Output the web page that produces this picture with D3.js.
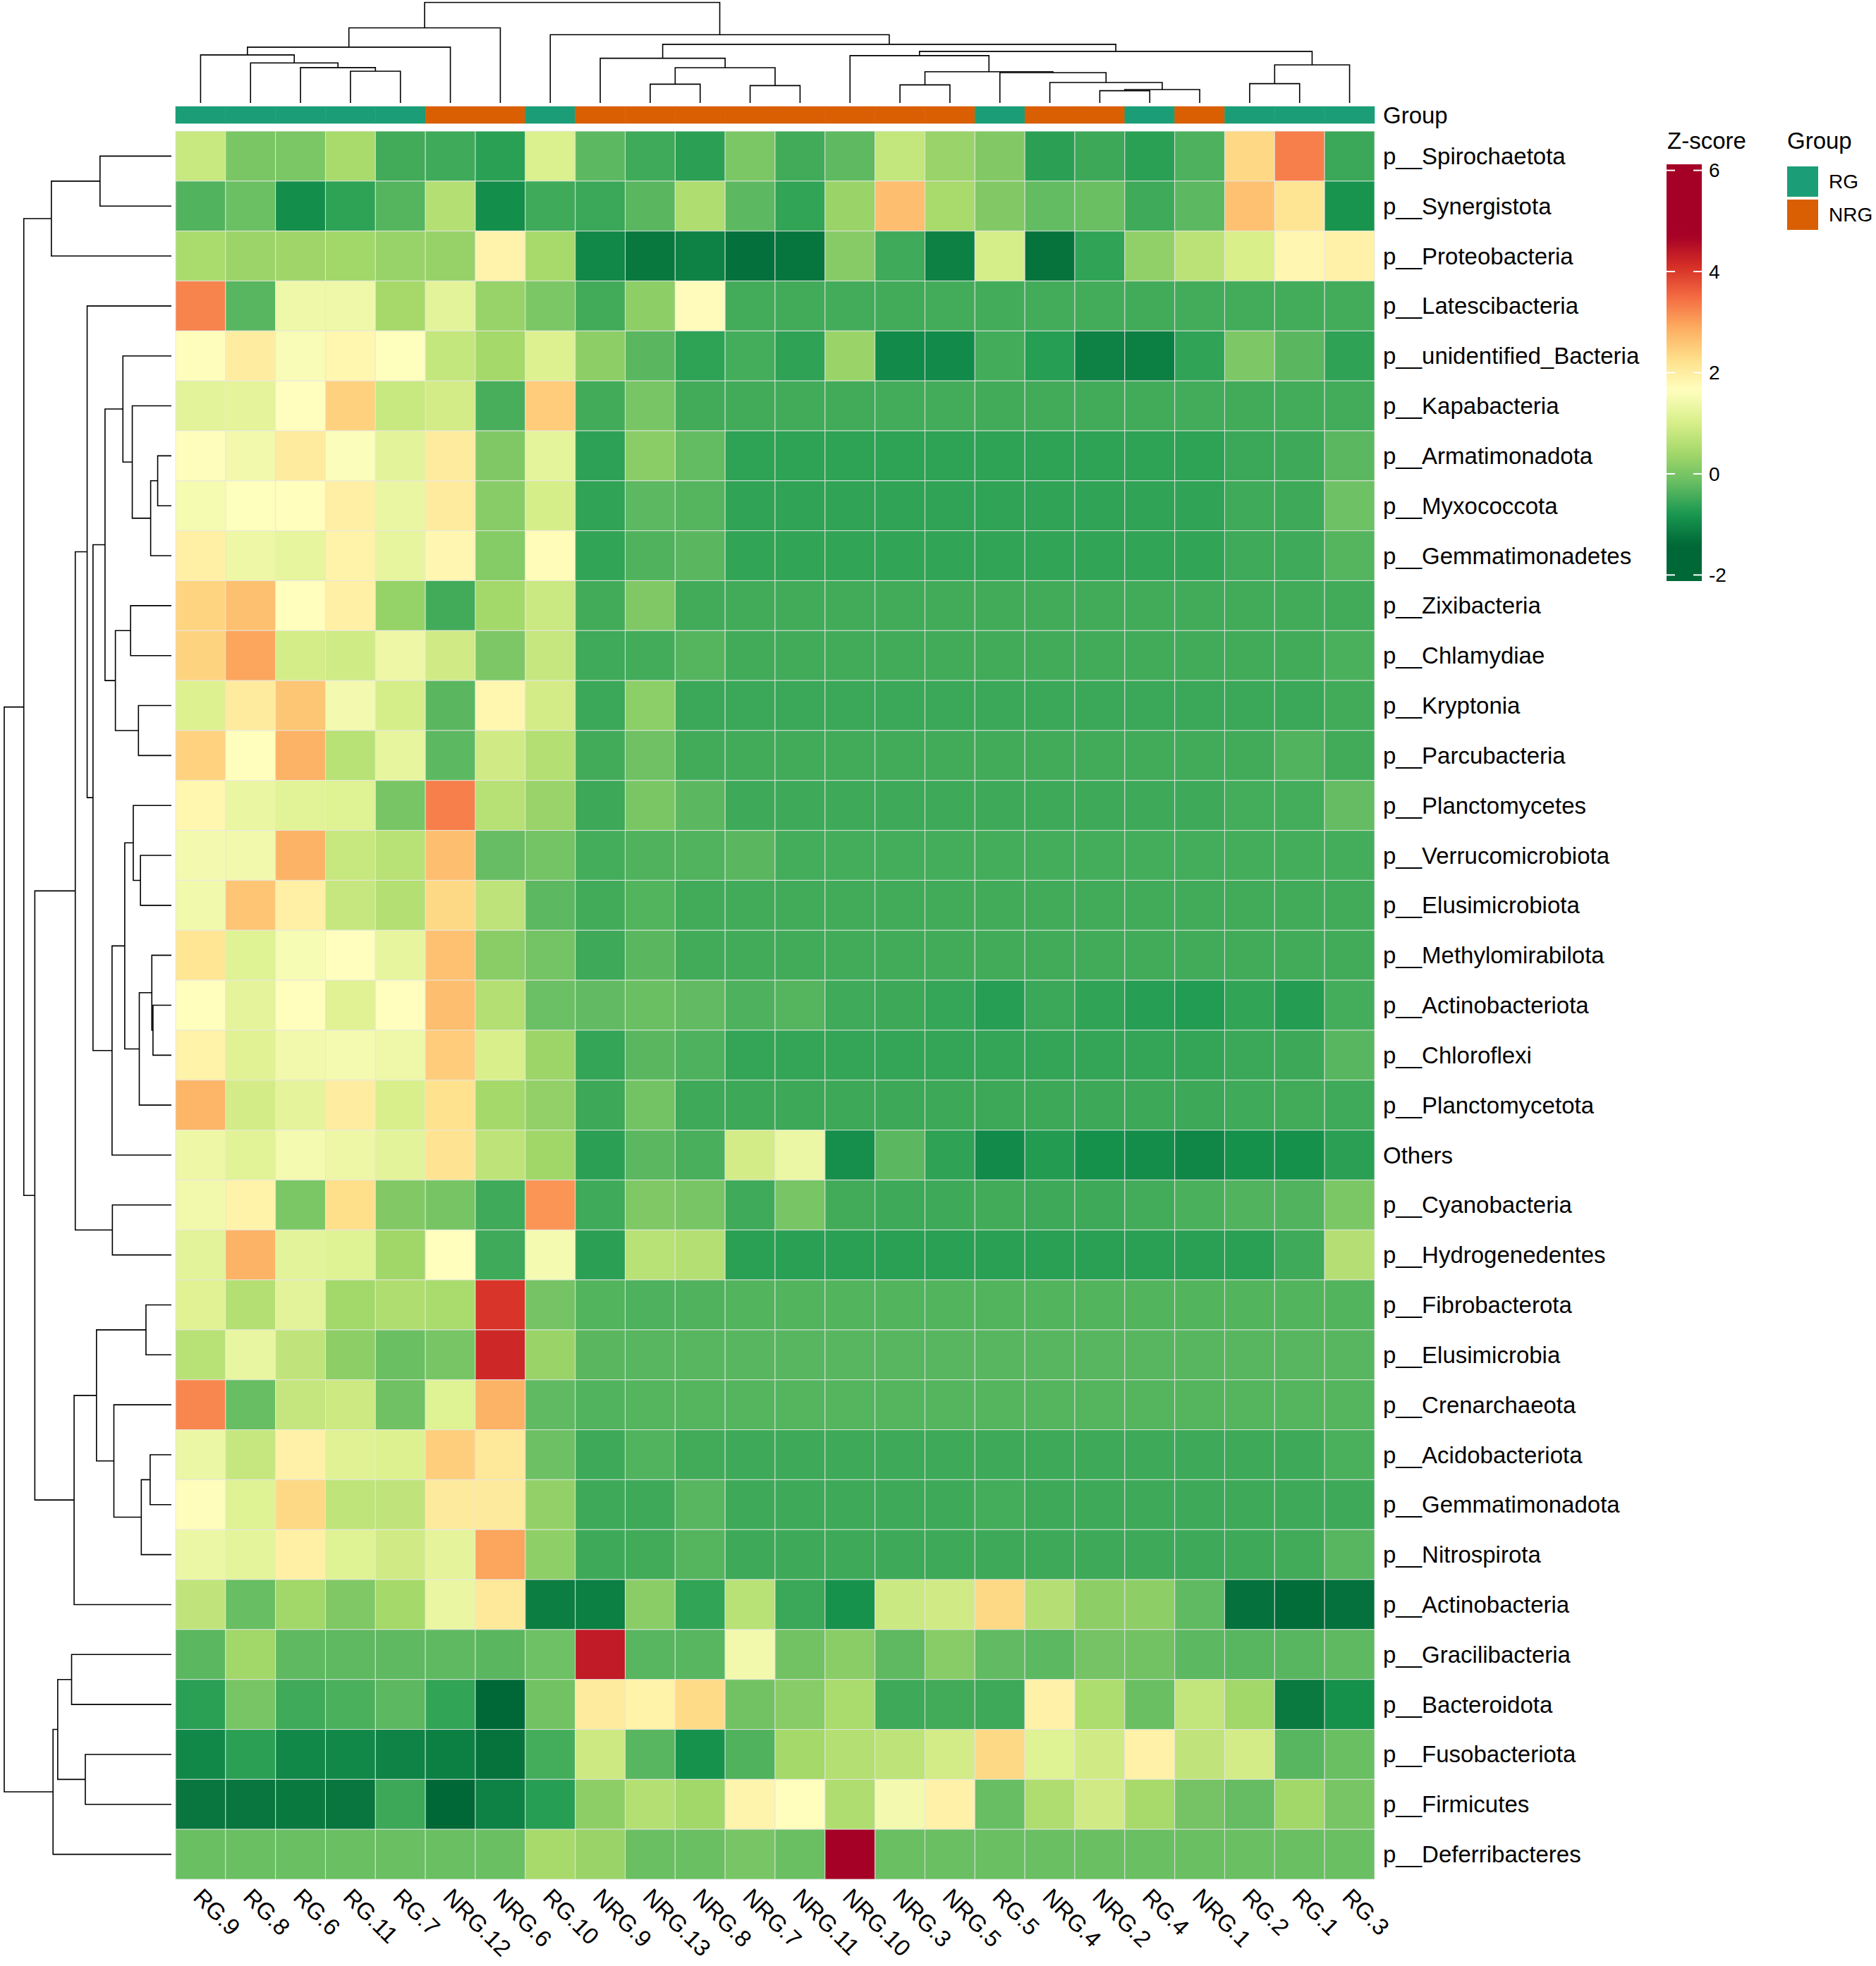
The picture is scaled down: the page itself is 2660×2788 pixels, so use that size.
<!DOCTYPE html>
<html lang="en">
<head>
<meta charset="utf-8">
<title>Phylum Z-score heatmap</title>
<script src="https://d3js.org/d3.v7.min.js"></script>
<style>
  body { margin: 0; background: #fff; }
  text { font-family: "Liberation Sans", Arial, sans-serif; fill: #000; }
</style>
</head>
<body>
<script>
// ---- data ----
var rows = ["p__Spirochaetota", "p__Synergistota", "p__Proteobacteria", "p__Latescibacteria",
  "p__unidentified_Bacteria", "p__Kapabacteria", "p__Armatimonadota", "p__Myxococcota",
  "p__Gemmatimonadetes", "p__Zixibacteria", "p__Chlamydiae", "p__Kryptonia", "p__Parcubacteria",
  "p__Planctomycetes", "p__Verrucomicrobiota", "p__Elusimicrobiota", "p__Methylomirabilota",
  "p__Actinobacteriota", "p__Chloroflexi", "p__Planctomycetota", "Others", "p__Cyanobacteria",
  "p__Hydrogenedentes", "p__Fibrobacterota", "p__Elusimicrobia", "p__Crenarchaeota",
  "p__Acidobacteriota", "p__Gemmatimonadota", "p__Nitrospirota", "p__Actinobacteria",
  "p__Gracilibacteria", "p__Bacteroidota", "p__Fusobacteriota", "p__Firmicutes", "p__Deferribacteres"];

var cols = ["RG.9", "RG.8", "RG.6", "RG.11", "RG.7", "NRG.12", "NRG.6", "RG.10", "NRG.9", "NRG.13",
  "NRG.8", "NRG.7", "NRG.11", "NRG.10", "NRG.3", "NRG.5", "RG.5", "NRG.4", "NRG.2", "RG.4",
  "NRG.1", "RG.2", "RG.1", "RG.3"];

var groups = ["RG", "RG", "RG", "RG", "RG", "NRG", "NRG", "RG", "NRG", "NRG", "NRG", "NRG", "NRG",
  "NRG", "NRG", "NRG", "RG", "NRG", "NRG", "RG", "NRG", "RG", "RG", "RG"];

var groupLevels = ["RG", "NRG"];
var groupColors = ["#1B9E77", "#D95F02"];

var zScores = [
  [0.84, 0.01, 0.02, 0.47, -0.47, -0.49, -0.66, 1.07, -0.25, -0.49, -0.65, 0.03, -0.47, -0.24, 0.78, 0.31, 0.09, -0.65, -0.52, -0.66, -0.38, 2.36, 3.31, -0.53],
  [-0.35, -0.12, -0.92, -0.63, -0.32, 0.60, -0.92, -0.49, -0.53, -0.28, 0.55, -0.25, -0.60, 0.32, 2.67, 0.47, 0.09, -0.20, -0.14, -0.49, -0.26, 2.64, 2.16, -0.84],
  [0.48, 0.33, 0.37, 0.39, 0.30, 0.28, 1.89, 0.44, -0.99, -1.20, -1.07, -1.30, -1.23, 0.13, -0.49, -1.10, 1.00, -1.27, -0.61, 0.23, 0.67, 1.03, 1.81, 1.93],
  [3.27, -0.29, 1.39, 1.38, 0.43, 1.20, 0.30, 0.03, -0.47, 0.19, 1.70, -0.46, -0.47, -0.46, -0.47, -0.46, -0.46, -0.46, -0.46, -0.47, -0.46, -0.46, -0.46, -0.46],
  [1.68, 2.00, 1.54, 1.83, 1.63, 0.78, 0.42, 1.10, 0.19, -0.28, -0.63, -0.45, -0.62, 0.32, -0.97, -0.97, -0.46, -0.69, -1.08, -1.11, -0.61, 0.04, -0.28, -0.62],
  [1.20, 1.23, 1.66, 2.44, 0.84, 0.97, -0.42, 2.50, -0.47, -0.01, -0.47, -0.47, -0.47, -0.47, -0.46, -0.46, -0.47, -0.47, -0.47, -0.47, -0.46, -0.47, -0.46, -0.46],
  [1.68, 1.44, 2.04, 1.59, 1.20, 2.04, 0.07, 1.22, -0.64, 0.16, -0.20, -0.63, -0.63, -0.63, -0.63, -0.63, -0.63, -0.63, -0.63, -0.63, -0.63, -0.53, -0.50, -0.27],
  [1.49, 1.63, 1.67, 1.96, 1.31, 2.04, 0.14, 1.00, -0.61, -0.26, -0.32, -0.61, -0.61, -0.61, -0.61, -0.61, -0.61, -0.61, -0.61, -0.61, -0.61, -0.49, -0.50, -0.10],
  [1.95, 1.36, 1.26, 1.91, 1.28, 1.81, 0.12, 1.73, -0.60, -0.36, -0.28, -0.60, -0.60, -0.60, -0.60, -0.60, -0.60, -0.60, -0.60, -0.60, -0.60, -0.49, -0.49, -0.32],
  [2.41, 2.65, 1.67, 1.95, 0.27, -0.47, 0.40, 0.87, -0.47, 0.07, -0.47, -0.47, -0.47, -0.47, -0.47, -0.47, -0.47, -0.47, -0.47, -0.47, -0.47, -0.47, -0.47, -0.47],
  [2.42, 2.95, 0.99, 0.92, 1.36, 0.93, 0.04, 0.81, -0.49, -0.46, -0.32, -0.47, -0.47, -0.47, -0.47, -0.47, -0.47, -0.47, -0.47, -0.47, -0.47, -0.47, -0.47, -0.40],
  [1.10, 2.04, 2.58, 1.46, 1.01, -0.28, 1.83, 0.97, -0.53, 0.18, -0.53, -0.53, -0.53, -0.53, -0.53, -0.53, -0.53, -0.53, -0.53, -0.53, -0.53, -0.53, -0.53, -0.47],
  [2.43, 1.67, 2.81, 0.65, 1.28, -0.25, 0.93, 0.59, -0.47, -0.09, -0.47, -0.47, -0.47, -0.47, -0.47, -0.47, -0.47, -0.47, -0.47, -0.47, -0.47, -0.47, -0.34, -0.47],
  [1.83, 1.31, 1.18, 1.14, -0.01, 3.31, 0.63, 0.31, -0.52, 0.01, -0.27, -0.50, -0.50, -0.50, -0.50, -0.50, -0.50, -0.50, -0.50, -0.50, -0.50, -0.45, -0.45, -0.19],
  [1.46, 1.44, 2.81, 0.82, 0.65, 2.66, -0.17, -0.05, -0.45, -0.36, -0.35, -0.28, -0.45, -0.45, -0.45, -0.45, -0.45, -0.45, -0.45, -0.45, -0.45, -0.45, -0.45, -0.45],
  [1.43, 2.59, 1.95, 0.81, 0.59, 2.35, 0.72, -0.26, -0.47, -0.33, -0.47, -0.47, -0.47, -0.47, -0.47, -0.47, -0.47, -0.47, -0.47, -0.47, -0.47, -0.47, -0.47, -0.47],
  [2.14, 1.14, 1.52, 1.66, 1.26, 2.64, 0.16, -0.05, -0.51, -0.28, -0.47, -0.47, -0.47, -0.47, -0.47, -0.47, -0.47, -0.47, -0.47, -0.47, -0.47, -0.47, -0.47, -0.47],
  [1.67, 1.23, 1.67, 1.15, 1.66, 2.67, 0.59, -0.13, -0.21, -0.14, -0.21, -0.37, -0.32, -0.49, -0.52, -0.57, -0.69, -0.53, -0.61, -0.69, -0.73, -0.60, -0.71, -0.45],
  [1.91, 1.15, 1.44, 1.47, 1.38, 2.50, 1.04, 0.35, -0.58, -0.28, -0.37, -0.58, -0.58, -0.58, -0.58, -0.58, -0.58, -0.58, -0.58, -0.58, -0.58, -0.53, -0.52, -0.29],
  [2.78, 0.97, 1.23, 2.00, 1.04, 2.22, 0.42, 0.25, -0.52, -0.06, -0.51, -0.52, -0.52, -0.52, -0.52, -0.52, -0.52, -0.52, -0.52, -0.52, -0.52, -0.49, -0.47, -0.49],
  [1.36, 1.18, 1.47, 1.36, 1.20, 2.18, 0.70, 0.38, -0.65, -0.27, -0.41, 0.97, 1.33, -0.90, -0.27, -0.62, -0.97, -0.72, -0.88, -0.93, -1.01, -0.88, -0.88, -0.65],
  [1.44, 1.91, 0.02, 2.26, 0.09, -0.02, -0.49, 3.10, -0.49, 0.07, -0.01, -0.49, -0.01, -0.47, -0.51, -0.51, -0.48, -0.51, -0.50, -0.46, -0.40, -0.34, -0.34, 0.03],
  [1.20, 2.81, 1.20, 1.14, 0.38, 1.67, -0.49, 1.47, -0.65, 0.65, 0.59, -0.66, -0.66, -0.66, -0.66, -0.66, -0.66, -0.66, -0.66, -0.66, -0.66, -0.66, -0.49, 0.61],
  [1.15, 0.60, 1.20, 0.40, 0.55, 0.48, 4.05, -0.04, -0.33, -0.38, -0.36, -0.33, -0.33, -0.33, -0.33, -0.33, -0.33, -0.33, -0.33, -0.33, -0.33, -0.33, -0.33, -0.33],
  [0.65, 1.30, 0.74, 0.20, -0.14, -0.01, 4.20, 0.32, -0.28, -0.30, -0.30, -0.29, -0.29, -0.29, -0.29, -0.29, -0.29, -0.29, -0.29, -0.29, -0.29, -0.29, -0.29, -0.29],
  [3.24, -0.16, 0.80, 0.88, -0.09, 1.14, 2.81, -0.23, -0.34, -0.32, -0.32, -0.32, -0.32, -0.32, -0.32, -0.32, -0.32, -0.32, -0.32, -0.32, -0.32, -0.32, -0.32, -0.32],
  [1.33, 0.81, 1.93, 1.15, 1.10, 2.48, 2.10, -0.11, -0.50, -0.35, -0.47, -0.50, -0.50, -0.50, -0.50, -0.50, -0.50, -0.50, -0.50, -0.50, -0.50, -0.50, -0.50, -0.40],
  [1.68, 1.14, 2.35, 0.73, 0.74, 2.06, 2.06, 0.25, -0.50, -0.50, -0.29, -0.50, -0.50, -0.50, -0.50, -0.50, -0.45, -0.50, -0.50, -0.50, -0.50, -0.50, -0.50, -0.50],
  [1.33, 1.22, 1.95, 1.14, 0.93, 1.23, 2.95, 0.21, -0.50, -0.47, -0.32, -0.50, -0.50, -0.50, -0.50, -0.50, -0.50, -0.50, -0.50, -0.50, -0.50, -0.50, -0.47, -0.29],
  [0.74, -0.16, 0.39, 0.07, 0.42, 1.31, 2.10, -1.12, -1.11, 0.16, -0.60, 0.65, -0.53, -0.86, 0.87, 0.93, 2.35, 0.61, 0.20, 0.20, -0.23, -1.29, -1.34, -1.29],
  [-0.27, 0.39, -0.24, -0.24, -0.24, -0.24, -0.28, -0.10, 4.36, -0.29, -0.29, 1.44, -0.07, 0.16, -0.24, 0.14, -0.21, -0.26, -0.04, -0.07, -0.26, -0.29, -0.29, -0.24],
  [-0.66, -0.01, -0.49, -0.40, -0.26, -0.60, -2.12, -0.07, 2.04, 1.91, 2.32, -0.07, 0.14, 0.48, -0.50, -0.47, -0.50, 1.93, 0.53, -0.14, 0.76, 0.39, -1.17, -0.88],
  [-0.99, -0.65, -0.99, -0.99, -1.06, -1.11, -1.26, -0.45, 0.88, -0.29, -0.86, -0.36, 0.42, 0.59, 0.70, 0.97, 2.35, 1.14, 0.93, 1.93, 0.74, 0.97, -0.29, -0.14],
  [-1.22, -1.22, -1.18, -1.22, -0.52, -1.50, -1.07, -0.69, 0.20, 0.59, 0.39, 1.87, 1.67, 0.55, 1.46, 1.93, -0.16, 0.55, 0.93, 0.45, -0.04, -0.19, 0.39, -0.01],
  [-0.14, -0.14, -0.14, -0.14, -0.14, -0.14, -0.14, 0.45, 0.32, -0.14, -0.14, -0.01, -0.14, 6.12, -0.14, -0.14, -0.14, -0.14, -0.14, -0.14, -0.14, -0.14, -0.14, -0.14]
];

// hclust-style merges: negative = leaf (-(index+1)), positive = earlier merge (1-based); third value = height
var colMerge = [
  [-19, -20, 12.2], [1, -21, 13.3], [-12, -13, 17.3], [-15, -16, 18.0], [-10, -11, 18.7],
  [-22, -23, 19.2], [-18, 2, 20.4], [-17, 7, 30.2], [4, 8, 31.1], [-4, -5, 31.6],
  [5, 3, 35.1], [-3, 10, 35.2], [6, -24, 37.9], [-2, 12, 39.8], [-9, 11, 44.5],
  [-14, 9, 47.1], [-1, 14, 47.8], [16, 13, 51.3], [17, -6, 55.5], [15, 18, 58.3],
  [-8, 20, 67.9], [19, -7, 74.7], [22, 21, 100]
];

var rowMerge = [
  [-7, -8, 8.2], [-18, -19, 11.0], [-17, 2, 11.7], [1, -9, 12.4], [-27, -28, 12.7],
  [-24, -25, 15.2], [5, -29, 18.0], [-15, -16, 18.5], [3, -20, 19.2], [-12, -13, 19.7],
  [-14, 8, 22.8], [-6, 4, 23.4], [-10, -11, 24.4], [11, 9, 27.9], [-5, 12, 29.0],
  [13, 10, 33.5], [-26, 7, 34.4], [14, -21, 35.5], [-22, -23, 35.3], [15, 16, 39.7],
  [-1, -2, 42.7], [6, 17, 44.8], [20, 18, 46.9], [-4, 23, 50.4], [-33, -34, 51.5],
  [24, 19, 57.5], [22, -30, 58.2], [-31, -32, 59.7], [28, 25, 68.0], [29, -35, 70.8],
  [21, -3, 71.8], [26, 27, 81.7], [31, 32, 88.3], [33, 30, 100]
];

var zTicks = [-2, 0, 2, 4, 6];
var zExtent = [-2.12, 6.12];
var rampStops = [-1.4, -0.79, -0.18, 0.43, 1.04, 1.65, 2.26, 2.87, 3.48, 4.09, 4.7];
var rampColors = ["#006837", "#1a9850", "#66bd63", "#a6d96a", "#d9ef8b", "#ffffbf",
  "#fee08b", "#fdae61", "#f46d43", "#d73027", "#a50026"];

// ---- layout ----
var w = 2660, h = 2788;
var fs = 33;

var svg = d3.select("body").append("svg")
    .attr("width", w)
    .attr("height", h);

svg.append("rect").attr("width", w).attr("height", h).attr("fill", "white");

var xScale = d3.scaleBand().domain(d3.range(cols.length)).range([249, 1949]);
var yScale = d3.scaleBand().domain(d3.range(rows.length)).range([186, 2665]);
var color = d3.scaleLinear().domain(rampStops).range(rampColors).clamp(true);
var groupColor = d3.scaleOrdinal().domain(groupLevels).range(groupColors);

// heatmap cells
var cells = [];
zScores.forEach(function(r, i) {
  r.forEach(function(v, j) { cells.push({row: i, col: j, v: v}); });
});

svg.append("g").attr("id", "cells")
  .selectAll("rect")
  .data(cells)
  .enter().append("rect")
    .attr("x", d => xScale(d.col))
    .attr("y", d => yScale(d.row))
    .attr("width", xScale.bandwidth())
    .attr("height", yScale.bandwidth())
    .attr("fill", d => color(d.v))
    .attr("stroke", "#e6e6e6")
    .attr("stroke-opacity", 0.75)
    .attr("stroke-width", 1.1);

// group annotation bar
svg.append("g").attr("id", "annot")
  .selectAll("rect")
  .data(groups)
  .enter().append("rect")
    .attr("x", (d, i) => xScale(i))
    .attr("y", 151)
    .attr("width", xScale.bandwidth())
    .attr("height", 24)
    .attr("fill", d => groupColor(d))
    .attr("stroke", d => groupColor(d))
    .attr("stroke-width", 0.5);

svg.append("text")
    .attr("x", 1961)
    .attr("y", 163)
    .attr("dy", "0.35em")
    .attr("font-size", fs)
    .text("Group");

// row labels
svg.append("g").attr("id", "rowlabels")
  .selectAll("text")
  .data(rows)
  .enter().append("text")
    .attr("x", 1961)
    .attr("y", (d, i) => yScale(i) + yScale.bandwidth() / 2)
    .attr("dy", "0.35em")
    .attr("font-size", fs)
    .text(d => d);

// column labels, rotated
svg.append("g").attr("id", "collabels")
  .selectAll("text")
  .data(cols)
  .enter().append("text")
    .attr("transform", (d, i) => `translate(${xScale(i) + xScale.bandwidth() / 2 - 4}, 2684) rotate(45)`)
    .attr("dy", "0.35em")
    .attr("font-size", fs)
    .text(d => d);

// dendrograms
function dendroPaths(merge, leafPos, hPos) {
  var nodes = [];
  function info(k) {
    if (k < 0) return {p: leafPos(-k - 1), h: 0};
    return nodes[k - 1];
  }
  var paths = [];
  merge.forEach(function(m) {
    var a = info(m[0]), b = info(m[1]);
    var hm = m[2];
    nodes.push({p: (a.p + b.p) / 2, h: hm});
    paths.push({a: a, b: b, h: hm});
  });
  return paths;
}

var colH = d3.scaleLinear().domain([0, 100]).range([146, 3.5]);
var colPaths = dendroPaths(colMerge, i => xScale(i) + xScale.bandwidth() / 2, colH);

svg.append("g").attr("id", "coldendro")
  .selectAll("path")
  .data(colPaths)
  .enter().append("path")
    .attr("d", d => `M${d.a.p},${colH(d.a.h)}V${colH(d.h)}H${d.b.p}V${colH(d.b.h)}`)
    .attr("fill", "none")
    .attr("stroke", "#000")
    .attr("stroke-width", 1.6);

var rowH = d3.scaleLinear().domain([0, 100]).range([243, 6]);
var rowPaths = dendroPaths(rowMerge, i => yScale(i) + yScale.bandwidth() / 2, rowH);

svg.append("g").attr("id", "rowdendro")
  .selectAll("path")
  .data(rowPaths)
  .enter().append("path")
    .attr("d", d => `M${rowH(d.a.h)},${d.a.p}H${rowH(d.h)}V${d.b.p}H${rowH(d.b.h)}`)
    .attr("fill", "none")
    .attr("stroke", "#000")
    .attr("stroke-width", 1.6);

// colour legend
var legY = d3.scaleLinear().domain(zExtent).range([824, 233]);
var defs = svg.append("defs");
var grad = defs.append("linearGradient")
    .attr("id", "zgrad")
    .attr("x1", 0).attr("y1", 1).attr("x2", 0).attr("y2", 0);
d3.range(0, 1.0001, 0.02).forEach(function(t) {
  var v = zExtent[0] + t * (zExtent[1] - zExtent[0]);
  grad.append("stop").attr("offset", t).attr("stop-color", color(v));
});

svg.append("text")
    .attr("x", 2364)
    .attr("y", 199)
    .attr("dy", "0.35em")
    .attr("font-size", fs)
    .text("Z-score");

svg.append("rect")
    .attr("x", 2363)
    .attr("y", legY(zExtent[1]))
    .attr("width", 50)
    .attr("height", legY(zExtent[0]) - legY(zExtent[1]))
    .attr("fill", "url(#zgrad)");

var tickG = svg.append("g").selectAll("g")
  .data(zTicks)
  .enter().append("g");

tickG.append("line")
    .attr("x1", 2363).attr("x2", 2375)
    .attr("y1", d => legY(d)).attr("y2", d => legY(d))
    .attr("stroke", "white").attr("stroke-width", 2);
tickG.append("line")
    .attr("x1", 2401).attr("x2", 2413)
    .attr("y1", d => legY(d)).attr("y2", d => legY(d))
    .attr("stroke", "white").attr("stroke-width", 2);
tickG.append("text")
    .attr("x", 2423)
    .attr("y", d => legY(d))
    .attr("dy", "0.35em")
    .attr("font-size", 28)
    .text(d => d);

// group legend
svg.append("text")
    .attr("x", 2534)
    .attr("y", 199)
    .attr("dy", "0.35em")
    .attr("font-size", fs)
    .text("Group");

var gl = svg.append("g").selectAll("g")
  .data(groupLevels)
  .enter().append("g");

gl.append("rect")
    .attr("x", 2534)
    .attr("y", (d, i) => 236 + i * 47)
    .attr("width", 44)
    .attr("height", 43)
    .attr("fill", d => groupColor(d));

gl.append("text")
    .attr("x", 2593)
    .attr("y", (d, i) => 236 + i * 47 + 21.5)
    .attr("dy", "0.35em")
    .attr("font-size", 28)
    .text(d => d);
</script>
</body>
</html>
